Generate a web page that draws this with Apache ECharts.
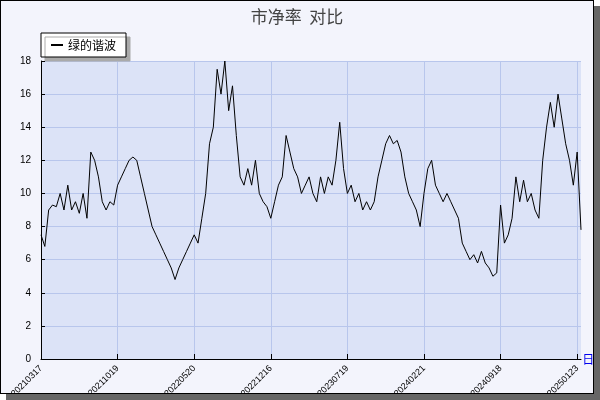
<!DOCTYPE html>
<html><head><meta charset="utf-8">
<script src="https://cdn.jsdelivr.net/npm/echarts@6/dist/echarts.min.js"></script>
<style>html,body{margin:0;padding:0;background:#fff}
#frame{position:absolute;left:0;top:0;width:592px;height:392px;background:#f3f4fc;border:1px solid #000;box-shadow:6px 6px 0 #666}
#c{width:592px;height:392px}</style></head>
<body><div id="frame"><div id="c"></div></div>
<script>
const tickLabels=['20210317','20211019','20220520','20221216','20230719','20240221','20240918','20250123'];
const seg0=[7.5,6.8,9,9.3,9.2,10,9,10.5,9,9.5,8.8,10,8.5,12.5,12,11,9.5,9,9.5,9.3];
const seg1=[10.5,11,11.5,12,12.2,12,11,10,9,8,7.5,7,6.5,6,5.5,4.8,5.5,6,6.5,7];
const seg2=[7.5,7,8.5,10,13,14,17.5,16,18,15,16.5,13.5,11,10.5,11.5,10.5,12,10,9.5,9.2];
const seg3=[8.5,9.5,10.5,11,13.5,12.5,11.5,11,10,10.5,11,10,9.5,11,10,11,10.5,12,14.3,11.5];
const seg4=[10,10.5,9.5,10,9,9.5,9,9.5,11,12,13,13.5,13,13.2,12.5,11,10,9.5,9,8];
const seg5=[10,11.5,12,10.5,10,9.5,10,9.5,9,8.5,7,6.5,6,6.3,5.8,6.5,5.8,5.5,5,5.2];
const seg6=[9.3,7,7.5,8.5,11,9.5,10.8,9.5,10,9,8.5,12,14,15.5,14,16,14.5,13,12,10.5];
const segEnd=[12.5,7.8];
const values=[].concat(seg0,seg1,seg2,seg3,seg4,seg5,seg6,segEnd);
const cats=values.map((v,i)=>String(i));
const ch=echarts.init(document.getElementById('c'));
ch.setOption({
  animation:false,
  title:{text:'市净率  对比',left:'center',top:2,textStyle:{fontSize:17,fontWeight:'normal',color:'#444',fontFamily:'Noto Sans CJK SC'}},
  legend:{left:40,top:32,orient:'vertical',backgroundColor:'#fff',borderColor:'#000',borderWidth:1,padding:[6,10],
    shadowColor:'#aaa',shadowOffsetX:4,shadowOffsetY:4,shadowBlur:0,itemWidth:12,itemHeight:2,
    icon:'rect',textStyle:{fontSize:12,fontFamily:'Noto Sans CJK SC',color:'#000'}},
  grid:{left:40,right:12,top:60,bottom:34,backgroundColor:'#dce3f7',show:true,borderWidth:0,containLabel:false,outerBoundsMode:'none'},
  xAxis:{type:'category',data:cats,boundaryGap:false,name:'日期',nameLocation:'end',nameGap:-20,
    nameTextStyle:{color:'#0000ee',fontSize:12,padding:[44,0,0,0],fontFamily:'Noto Sans CJK SC'},
    axisLine:{lineStyle:{color:'#000'}},axisTick:{interval:19,length:5,inside:true,lineStyle:{color:'#000'}},
    axisLabel:{interval:19,rotate:45,fontSize:9,color:'#000',margin:8,formatter:(v,i)=>i%20===0?tickLabels[i/20]:''},
    splitLine:{show:true,interval:19,lineStyle:{color:'#b8c6ec'}}},
  yAxis:{type:'value',min:0,max:18,interval:2,
    axisLine:{show:true,lineStyle:{color:'#000'}},axisTick:{show:true,inside:true,length:4,lineStyle:{color:'#000'}},
    axisLabel:{fontSize:10,color:'#000',margin:10},splitLine:{lineStyle:{color:'#b8c6ec'}}},
  series:[{name:'绿的谐波',type:'line',data:values,symbol:'none',lineStyle:{color:'#000',width:1},itemStyle:{color:'#000'}}]
});
</script></body></html>
